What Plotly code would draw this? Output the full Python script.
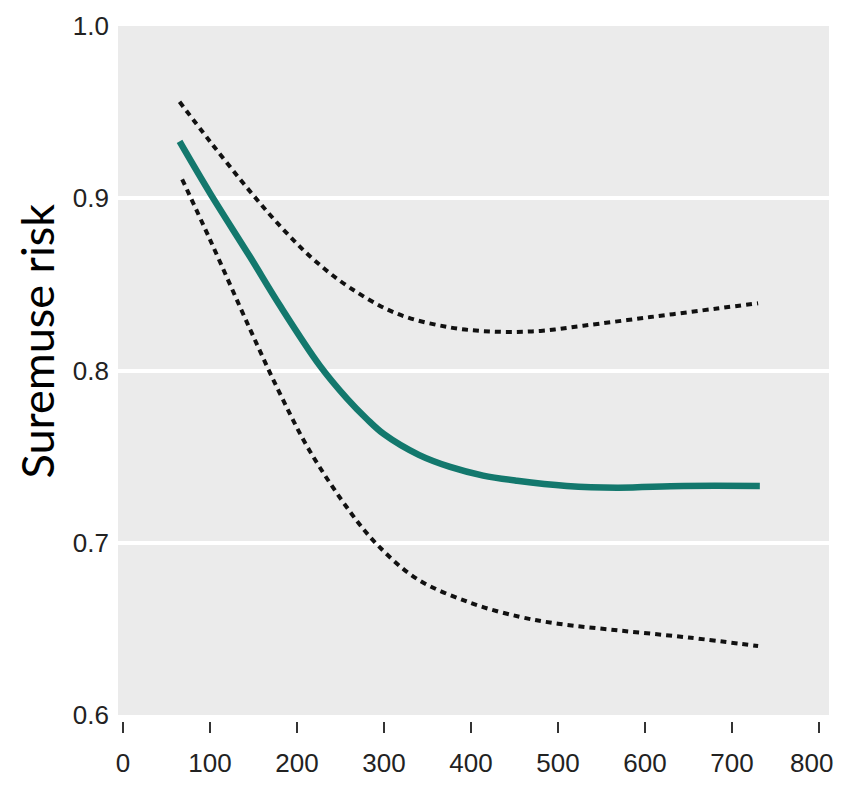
import plotly.graph_objects as go

# Data
x_upper = [65, 100, 146, 184, 220, 261, 315, 376, 430, 480, 529, 606, 683, 730]
y_upper = [0.956, 0.933, 0.904, 0.882, 0.864, 0.848, 0.833, 0.825, 0.8225, 0.823, 0.826, 0.831, 0.836, 0.839]

x_main = [65, 100, 146, 180, 226, 257, 280, 300, 340, 376, 414, 453, 510, 568, 644, 732]
y_main = [0.933, 0.903, 0.866, 0.838, 0.803, 0.784, 0.772, 0.763, 0.751, 0.744, 0.739, 0.736, 0.733, 0.732, 0.733, 0.733]

x_lower = [68, 100, 146, 180, 215, 261, 292, 338, 400, 456, 500, 571, 650, 730]
y_lower = [0.911, 0.876, 0.824, 0.787, 0.753, 0.718, 0.699, 0.679, 0.665, 0.657, 0.653, 0.649, 0.645, 0.640]

x_ticks = [0, 100, 200, 300, 400, 500, 600, 700, 800]
# last label padded with non-breaking spaces so it is not clipped at the right edge of the page
x_tick_text = ["0", "100", "200", "300", "400", "500", "600", "700", "800\u00a0\u00a0"]
y_ticks = [0.6, 0.7, 0.8, 0.9, 1.0]
y_tick_text = ["0.6", "0.7", "0.8", "0.9", "1.0"]
y_title = "Suremuse risk"

tick_font = dict(family="Liberation Sans, Arial, sans-serif", size=26, color="#222222")

fig = go.Figure()
fig.add_trace(go.Scatter(x=x_upper, y=y_upper, mode="lines", line_shape="spline",
                         line=dict(color="#111111", width=4, dash="6px,5px"), showlegend=False))
fig.add_trace(go.Scatter(x=x_lower, y=y_lower, mode="lines", line_shape="spline",
                         line=dict(color="#111111", width=4, dash="6px,5px"), showlegend=False))
fig.add_trace(go.Scatter(x=x_main, y=y_main, mode="lines", line_shape="spline",
                         line=dict(color="#13786d", width=6.5), showlegend=False))

# figure coordinates (page has an 8px body margin on every side)
W, H = 836, 769
left, right_edge = 110, 821
top, plot_bottom, axis_pos = 18, 707, 713
fig.update_layout(
    width=W, height=H,
    margin=dict(l=left, r=W - right_edge, t=top, b=H - axis_pos, pad=0),
    paper_bgcolor="white",
    plot_bgcolor="#ebebeb",
    xaxis=dict(range=[-5.75, 811.5], tickvals=x_ticks, ticktext=x_tick_text,
               showgrid=False, zeroline=False, showline=False,
               ticks="outside", ticklen=11, tickwidth=2, tickcolor="#333333", automargin=False,
               ticklabeloverflow="allow",
               tickfont=tick_font, anchor="free", position=0, ticklabelstandoff=8),
    yaxis=dict(range=[0.6, 1.0], tickvals=y_ticks, ticktext=y_tick_text, showgrid=True,
               gridcolor="white", gridwidth=4, zeroline=False, showline=False, ticks="",
               tickfont=tick_font, ticklabelstandoff=8, automargin=False,
               ticklabeloverflow="allow",
               domain=[(axis_pos - plot_bottom) / (axis_pos - top), 1]),
    annotations=[dict(text=y_title, textangle=-90, xref="paper", yref="paper",
                      x=-left / (right_edge - left), y=0.546, xanchor="left", yanchor="middle",
                      showarrow=False,
                      font=dict(family="Lato, Open Sans, sans-serif", size=45, color="black"))],
)

fig.write_html("out.html")
